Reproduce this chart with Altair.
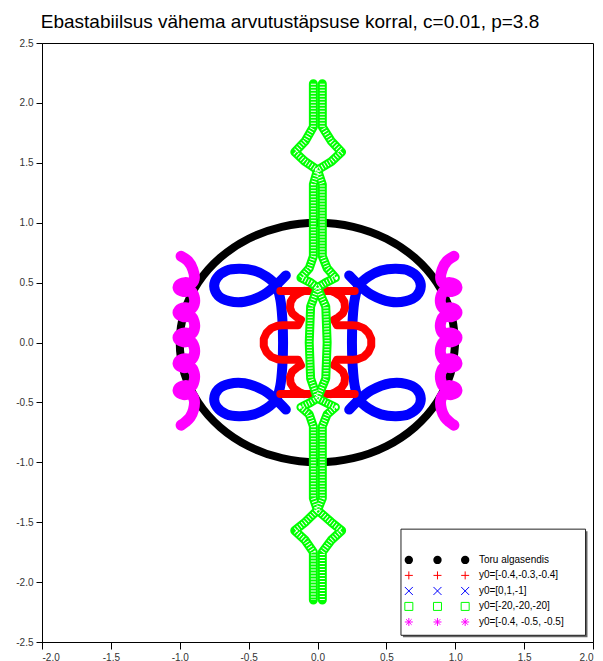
import altair as alt
import pandas as pd

TITLE = "Ebastabiilsus vähema arvutustäpsuse korral, c=0.01, p=3.8"
legend_labels = ["Toru algasendis", "y0=[-0.4,-0.3,-0.4]", "y0=[0,1,-1]",
                 "y0=[-20,-20,-20]", "y0=[-0.4, -0.5, -0.5]"]
series_colors = ["#000000", "#ff0000", "#0000ff", "#00ff00", "#ff00ff"]
x_ticks = [-2.0, -1.5, -1.0, -0.5, 0.0, 0.5, 1.0, 1.5, 2.0]
y_ticks = [-2.5, -2.0, -1.5, -1.0, -0.5, 0.0, 0.5, 1.0, 1.5, 2.0, 2.5]

# ---- black: initial tube position (unit circle) ----
circle_pts = [(1.0, 0.0), (0.966, 0.259), (0.866, 0.5), (0.707, 0.707), (0.5, 0.866),
              (0.259, 0.966), (0.0, 1.0), (-0.259, 0.966), (-0.5, 0.866), (-0.707, 0.707),
              (-0.866, 0.5), (-0.966, 0.259), (-1.0, 0.0), (-0.966, -0.259), (-0.866, -0.5),
              (-0.707, -0.707), (-0.5, -0.866), (-0.259, -0.966), (0.0, -1.0), (0.259, -0.966),
              (0.5, -0.866), (0.707, -0.707), (0.866, -0.5), (0.966, -0.259), (1.0, 0.0)]

# ---- blue: y0=[0,1,-1] ----
blue_right = [(0.23, 0.56), (0.30, 0.48), (0.39, 0.40), (0.53, 0.34), (0.64, 0.345),
              (0.72, 0.39), (0.75, 0.47), (0.73, 0.54), (0.66, 0.60), (0.57, 0.615),
              (0.46, 0.60), (0.37, 0.55), (0.30, 0.475), (0.27, 0.36), (0.255, 0.19),
              (0.25, 0.0), (0.255, -0.19), (0.27, -0.36), (0.30, -0.475), (0.37, -0.55),
              (0.46, -0.60), (0.57, -0.615), (0.66, -0.60), (0.73, -0.54), (0.75, -0.47),
              (0.72, -0.39), (0.64, -0.345), (0.53, -0.34), (0.39, -0.40), (0.30, -0.48),
              (0.23, -0.56)]
blue_left = [(-0.23, 0.56), (-0.30, 0.48), (-0.39, 0.40), (-0.53, 0.34), (-0.64, 0.345),
             (-0.72, 0.39), (-0.75, 0.47), (-0.73, 0.54), (-0.66, 0.60), (-0.57, 0.615),
             (-0.46, 0.60), (-0.37, 0.55), (-0.30, 0.475), (-0.27, 0.36), (-0.255, 0.19),
             (-0.25, 0.0), (-0.255, -0.19), (-0.27, -0.36), (-0.30, -0.475), (-0.37, -0.55),
             (-0.46, -0.60), (-0.57, -0.615), (-0.66, -0.60), (-0.73, -0.54), (-0.75, -0.47),
             (-0.72, -0.39), (-0.64, -0.345), (-0.53, -0.34), (-0.39, -0.40), (-0.30, -0.48),
             (-0.23, -0.56)]

# ---- red: y0=[-0.4,-0.3,-0.4] ----
red_top_bar = [(-0.27, 0.43), (0.27, 0.43)]
red_bottom_bar = [(-0.27, -0.43), (0.27, -0.43)]
red_left = [(-0.10, 0.43), (-0.13, 0.415), (-0.17, 0.385), (-0.195, 0.34), (-0.20, 0.29),
            (-0.185, 0.245), (-0.15, 0.21), (-0.12, 0.19), (-0.14, 0.145), (-0.25, 0.145),
            (-0.29, 0.14), (-0.335, 0.12), (-0.37, 0.08), (-0.39, 0.03), (-0.39, -0.03),
            (-0.37, -0.08), (-0.335, -0.12), (-0.29, -0.14), (-0.25, -0.145), (-0.14, -0.145),
            (-0.12, -0.19), (-0.15, -0.21), (-0.185, -0.245), (-0.20, -0.29), (-0.195, -0.34),
            (-0.17, -0.385), (-0.13, -0.415), (-0.10, -0.43)]
red_right = [(0.10, 0.43), (0.13, 0.415), (0.17, 0.385), (0.195, 0.34), (0.20, 0.29),
             (0.185, 0.245), (0.15, 0.21), (0.12, 0.19), (0.14, 0.145), (0.25, 0.145),
             (0.29, 0.14), (0.335, 0.12), (0.37, 0.08), (0.39, 0.03), (0.39, -0.03),
             (0.37, -0.08), (0.335, -0.12), (0.29, -0.14), (0.25, -0.145), (0.14, -0.145),
             (0.12, -0.19), (0.15, -0.21), (0.185, -0.245), (0.20, -0.29), (0.195, -0.34),
             (0.17, -0.385), (0.13, -0.415), (0.10, -0.43)]

# ---- green: y0=[-20,-20,-20] ----
green_a = [(-0.03, 2.16), (-0.03, 1.80), (-0.09, 1.68), (-0.165, 1.59), (-0.09, 1.51),
           (0.0, 1.44), (0.035, 1.32), (0.035, 0.72), (0.07, 0.62), (0.13, 0.54),
           (0.06, 0.50), (0.0, 0.456), (-0.05, 0.30), (-0.06, 0.0), (-0.05, -0.30),
           (0.0, -0.465), (0.06, -0.50), (0.13, -0.54), (0.07, -0.60), (0.035, -0.70),
           (0.035, -1.30), (0.0, -1.40), (-0.09, -1.50), (-0.165, -1.57), (-0.09, -1.65),
           (-0.03, -1.75), (-0.03, -2.15)]
green_b = [(0.035, 2.16), (0.035, 1.80), (0.10, 1.68), (0.175, 1.59), (0.10, 1.51),
           (0.0, 1.44), (-0.03, 1.32), (-0.03, 0.72), (-0.06, 0.62), (-0.12, 0.54),
           (-0.05, 0.50), (0.0, 0.456), (0.06, 0.30), (0.07, 0.0), (0.06, -0.30),
           (0.0, -0.465), (-0.05, -0.50), (-0.12, -0.54), (-0.06, -0.60), (-0.03, -0.70),
           (-0.03, -1.30), (0.0, -1.40), (0.10, -1.50), (0.175, -1.57), (0.10, -1.65),
           (0.035, -1.75), (0.035, -2.15)]

# ---- magenta: y0=[-0.4,-0.5,-0.5] ----
magenta_right = [(0.99, 0.72), (0.94, 0.68), (0.905, 0.61), (0.895, 0.53),
                 (0.915, 0.495), (0.96, 0.50), (1.005, 0.48), (1.01, 0.45), (0.97, 0.425), (0.92, 0.43),
                 (0.895, 0.38), (0.895, 0.32),
                 (0.915, 0.285), (0.96, 0.29), (1.005, 0.27), (1.01, 0.24), (0.97, 0.215), (0.92, 0.22),
                 (0.895, 0.17), (0.895, 0.11),
                 (0.915, 0.075), (0.96, 0.08), (1.005, 0.06), (1.01, 0.03), (0.97, 0.005), (0.92, 0.01),
                 (0.895, -0.04), (0.895, -0.10),
                 (0.915, -0.14), (0.96, -0.135), (1.005, -0.155), (1.01, -0.185), (0.97, -0.21), (0.92, -0.205),
                 (0.895, -0.255), (0.895, -0.315),
                 (0.915, -0.365), (0.96, -0.36), (1.005, -0.38), (1.01, -0.41), (0.97, -0.435), (0.92, -0.43),
                 (0.895, -0.48), (0.90, -0.56), (0.925, -0.625), (0.96, -0.665), (0.99, -0.69)]
magenta_left = [(-0.99, 0.72), (-0.94, 0.68), (-0.905, 0.61), (-0.895, 0.53),
                (-0.915, 0.495), (-0.96, 0.50), (-1.005, 0.48), (-1.01, 0.45), (-0.97, 0.425), (-0.92, 0.43),
                (-0.895, 0.38), (-0.895, 0.32),
                (-0.915, 0.285), (-0.96, 0.29), (-1.005, 0.27), (-1.01, 0.24), (-0.97, 0.215), (-0.92, 0.22),
                (-0.895, 0.17), (-0.895, 0.11),
                (-0.915, 0.075), (-0.96, 0.08), (-1.005, 0.06), (-1.01, 0.03), (-0.97, 0.005), (-0.92, 0.01),
                (-0.895, -0.04), (-0.895, -0.10),
                (-0.915, -0.14), (-0.96, -0.135), (-1.005, -0.155), (-1.01, -0.185), (-0.97, -0.21), (-0.92, -0.205),
                (-0.895, -0.255), (-0.895, -0.315),
                (-0.915, -0.365), (-0.96, -0.36), (-1.005, -0.38), (-1.01, -0.41), (-0.97, -0.435), (-0.92, -0.43),
                (-0.895, -0.48), (-0.90, -0.56), (-0.925, -0.625), (-0.96, -0.665), (-0.99, -0.69)]

# ---- legend layout (data units) ----
LEG_BOX = (0.606, 1.946, -1.558, -2.444)
LEG_SHADOW = (0.62, 1.96, -1.575, -2.461)
LEG_SYM_X = [0.663, 0.871, 1.072]
LEG_TXT_X = 1.172
LEG_ROW_Y = [-1.815, -1.944, -2.074, -2.203, -2.333]
legend_shapes = [
    "circle",
    "M-1,0L1,0M0,-1L0,1",
    "M-1,-1L1,1M-1,1L1,-1",
    "square",
    "M-1,0L1,0M0,-1L0,1M-0.7,-0.7L0.7,0.7M-0.7,0.7L0.7,-0.7",
]


def frame(segments):
    rows = []
    for name, pts in segments.items():
        for i, (x, y) in enumerate(pts):
            rows.append({"seg": name, "i": i, "x": x, "y": y})
    return pd.DataFrame(rows)


LABEL_EXPR = "replace(format(datum.value, '.1f'), '\u2212', '-')"
X = alt.X("x:Q", scale=alt.Scale(domain=[-2, 2], nice=False, zero=False),
          axis=alt.Axis(values=x_ticks, title=None, grid=False, tickSize=7,
                        labelPadding=3, labelExpr=LABEL_EXPR))
Y = alt.Y("y:Q", scale=alt.Scale(domain=[-2.5, 2.5], nice=False, zero=False),
          axis=alt.Axis(values=y_ticks, title=None, grid=False, tickSize=6,
                        labelPadding=3, labelExpr=LABEL_EXPR))


def lines(segments, color, width, interp="linear", dash=None):
    kw = dict(color=color, strokeWidth=width, interpolate=interp, strokeCap="round",
              strokeJoin="round", clip=True)
    if dash is not None:
        kw.update(strokeDash=dash, strokeCap="butt")
    return alt.Chart(frame(segments)).mark_line(**kw).encode(
        x=X, y=Y, detail="seg:N", order="i:Q")


black = lines({"c": circle_pts}, "#000000", 8, "cardinal")
blue = lines({"l": blue_left, "r": blue_right}, "#0000ff", 10, "catmull-rom")
red = lines({"t": red_top_bar, "b": red_bottom_bar, "l": red_left, "r": red_right},
            "#ff0000", 8, "linear")
green = lines({"a": green_a, "b": green_b}, "#00ff00", 9, "linear")
green_rungs = lines({"a": green_a, "b": green_b}, "#ffffff", 5, "linear", dash=[1, 2])
magenta = lines({"l": magenta_left, "r": magenta_right}, "#ff00ff", 11, "catmull-rom")

shadow_df = pd.DataFrame([{"x": LEG_SHADOW[0], "x2": LEG_SHADOW[1],
                           "y": LEG_SHADOW[2], "y2": LEG_SHADOW[3]}])
box_df = pd.DataFrame([{"x": LEG_BOX[0], "x2": LEG_BOX[1], "y": LEG_BOX[2], "y2": LEG_BOX[3]}])
shadow = alt.Chart(shadow_df).mark_rect(fill="#666666").encode(x=X, x2="x2:Q", y=Y, y2="y2:Q")
box = alt.Chart(box_df).mark_rect(fill="white", stroke="#222222", strokeWidth=1).encode(
    x=X, x2="x2:Q", y=Y, y2="y2:Q")

sym_rows = []
for k, lab in enumerate(legend_labels):
    for sx in LEG_SYM_X:
        sym_rows.append({"label": lab, "x": sx, "y": LEG_ROW_Y[k]})
sym_df = pd.DataFrame(sym_rows)
txt_df = pd.DataFrame({"label": legend_labels, "x": [LEG_TXT_X] * 5, "y": LEG_ROW_Y})

color_scale = alt.Scale(domain=legend_labels, range=series_colors)
shape_scale = alt.Scale(domain=legend_labels, range=legend_shapes)

sym_filled = alt.Chart(sym_df[sym_df.label == legend_labels[0]]).mark_point(
    filled=True, size=70, opacity=1).encode(
    x=X, y=Y, color=alt.Color("label:N", scale=color_scale, legend=None),
    shape=alt.Shape("label:N", scale=shape_scale, legend=None))
sym_open = alt.Chart(sym_df[sym_df.label != legend_labels[0]]).mark_point(
    filled=False, size=64, strokeWidth=1, opacity=1).encode(
    x=X, y=Y, color=alt.Color("label:N", scale=color_scale, legend=None),
    shape=alt.Shape("label:N", scale=shape_scale, legend=None))
txt = alt.Chart(txt_df).mark_text(align="left", baseline="middle", fontSize=10,
                                  font="Liberation Sans", color="black").encode(
    x=X, y=Y, text="label:N")

title = alt.Chart(pd.DataFrame({"t": [TITLE]})).mark_text(
    align="center", baseline="alphabetic", fontSize=19, font="Liberation Sans",
    color="black", clip=False).encode(x=alt.value(248), y=alt.value(-15), text="t:N")

chart = alt.layer(black, blue, red, green, green_rungs, magenta, shadow, box,
                  sym_filled, sym_open, txt, title).properties(
    width=551, height=599,
    autosize=alt.AutoSizeParams(type="none"),
    padding={"left": 34, "top": 35, "right": 2, "bottom": 20},
).configure_view(stroke="black", strokeWidth=1).configure_axis(
    labelFont="Liberation Sans", labelFontSize=10, labelColor="#333333",
    domainColor="black", tickColor="black"
)

chart.save("out.html", embed_options={"renderer": "svg", "actions": False})
